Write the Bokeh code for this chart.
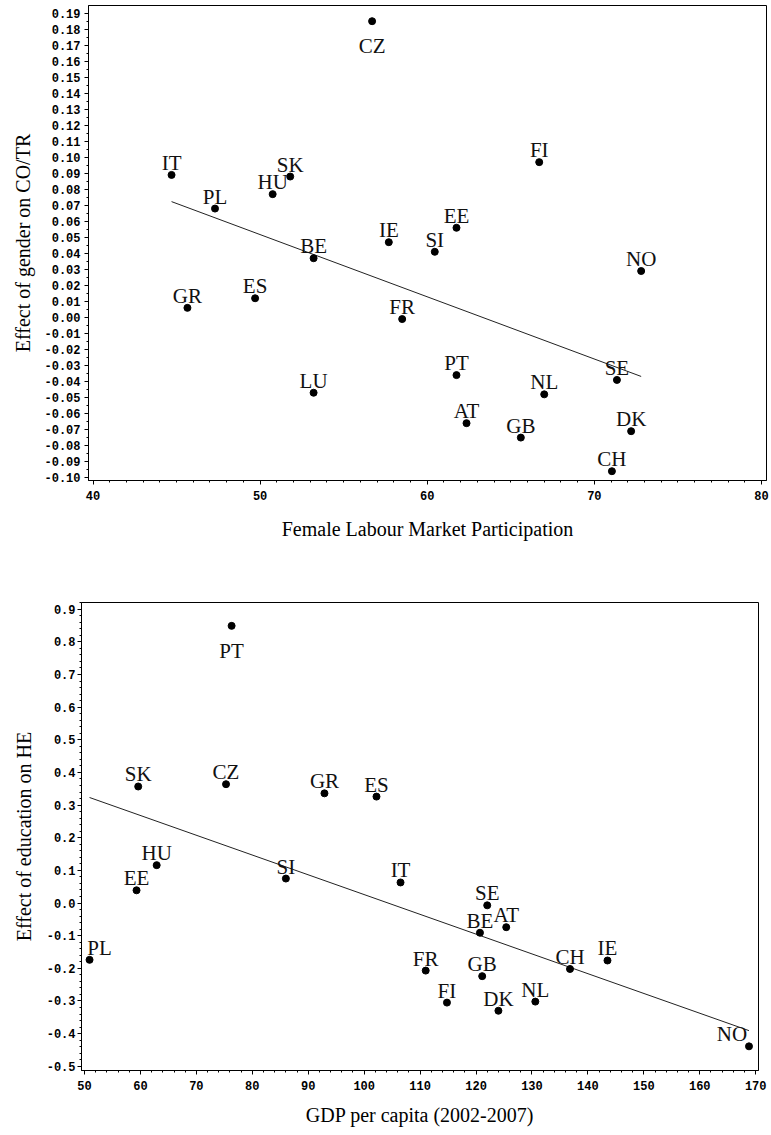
import numpy as np
from bokeh.plotting import figure
from bokeh.layouts import column
from bokeh.models import ColumnDataSource, Range1d, SingleIntervalTicker, NumeralTickFormatter
from bokeh.embed import file_html
from bokeh.resources import INLINE
from bokeh.core.properties import value

# ---------------- data: top chart ----------------
top_countries = ["CZ", "IT", "SK", "HU", "PL", "BE", "IE", "SI", "EE", "FI", "NO",
                 "GR", "ES", "FR", "PT", "LU", "SE", "NL", "AT", "DK", "GB", "CH"]
top_flmp = [56.7, 44.7, 51.8, 50.75, 47.3, 53.2, 57.7, 60.45, 61.75, 66.7, 72.8,
            45.65, 49.7, 58.5, 61.75, 53.2, 71.35, 67.0, 62.35, 72.2, 65.6, 71.05]
top_effect = [0.185, 0.089, 0.088, 0.077, 0.068, 0.037, 0.047, 0.041, 0.056, 0.097, 0.029,
              0.006, 0.012, -0.001, -0.036, -0.047, -0.039, -0.048, -0.066, -0.071, -0.075, -0.096]

# ---------------- data: bottom chart ----------------
bot_countries = ["PT", "SK", "CZ", "GR", "ES", "HU", "EE", "PL", "SI", "IT", "SE",
                 "AT", "BE", "FR", "GB", "FI", "DK", "NL", "CH", "IE", "NO"]
bot_gdp = [76.3, 59.6, 75.3, 92.9, 102.2, 62.9, 59.3, 50.9, 86.0, 106.5, 122.0,
           125.4, 120.7, 111.0, 121.1, 114.8, 124.0, 130.6, 136.8, 143.5, 168.8]
bot_effect = [0.849, 0.357, 0.364, 0.336, 0.326, 0.116, 0.039, -0.174, 0.075, 0.063, -0.007,
              -0.074, -0.091, -0.207, -0.224, -0.305, -0.330, -0.302, -0.202, -0.176, -0.439]

top_xlabel = "Female Labour Market Participation"
top_ylabel = "Effect of gender on CO/TR"
bot_xlabel = "GDP per capita (2002-2007)"
bot_ylabel = "Effect of education on HE"

SERIF = "Liberation Serif"
MONO = "Liberation Mono"


def make_fig(width, height, xr, yr, mbl, mbr, mbt, mbb):
    p = figure(width=width, height=height, x_range=Range1d(*xr), y_range=Range1d(*yr),
               output_backend="svg", toolbar_location=None,
               min_border_left=mbl, min_border_right=mbr,
               min_border_top=mbt, min_border_bottom=mbb)
    p.frame_align = False
    p.xgrid.visible = False
    p.ygrid.visible = False
    p.outline_line_color = "black"
    p.outline_line_width = 1
    p.outline_line_alpha = 1
    p.background_fill_color = "white"
    p.border_fill_color = "white"
    for ax in (p.xaxis[0], p.yaxis[0]):
        ax.axis_line_color = "black"
        ax.major_tick_line_color = "black"
        ax.minor_tick_line_color = "black"
        ax.major_tick_in = 0
        ax.major_tick_out = 4
        ax.minor_tick_in = 0
        ax.minor_tick_out = 2
        ax.major_label_text_font = MONO
        ax.major_label_text_font_style = "bold"
        ax.major_label_text_font_size = "12px"
        ax.major_label_text_color = "black"
        ax.axis_label_text_font = SERIF
        ax.axis_label_text_font_style = "normal"
        ax.axis_label_text_font_size = "20px"
        ax.axis_label_text_color = "black"
    return p


def add_points(p, xs, ys, names, below=(), xshift=None):
    xshift = xshift or {}
    xo = [xshift.get(n, 0) for n in names]
    yo = [25 if n in below else -12 for n in names]
    src = ColumnDataSource(dict(x=xs, y=ys, name=names, xo=xo, yo=yo))
    xa = np.array(xs)
    ya = np.array(ys)
    slope, icpt = np.polyfit(xa, ya, 1)
    lx = np.array([xa.min(), xa.max()])
    p.line(lx, icpt + slope * lx, line_color="#222222", line_width=1)
    p.scatter(x="x", y="y", source=src, size=7, marker="circle",
              fill_color="black", line_color="black")
    p.text(x="x", y="y", text="name", x_offset="xo", y_offset="yo", source=src,
           text_align="center", text_baseline="alphabetic",
           text_font=value(SERIF), text_font_size="21px", text_color="#111111")


# ---------------- top figure ----------------
p1 = make_fig(770, 545, (39.73, 80.3), (-0.1018, 0.1948), 88, 4, 5, 65)
p1.xaxis.ticker = SingleIntervalTicker(interval=10, num_minor_ticks=10)
p1.yaxis.ticker = SingleIntervalTicker(interval=0.01, num_minor_ticks=2)
p1.yaxis.formatter = NumeralTickFormatter(format="0.00")
p1.xaxis.major_label_standoff = 6
p1.yaxis.major_label_standoff = 4
p1.xaxis.axis_label = top_xlabel
p1.yaxis.axis_label = top_ylabel
p1.xaxis.axis_label_standoff = 15
p1.yaxis.axis_label_standoff = 7
add_points(p1, top_flmp, top_effect, top_countries, below={"CZ"})

# ---------------- bottom figure ----------------
p2 = make_fig(770, 590, (49.46, 170.5), (-0.513, 0.9206), 81, 12, 57, 65)
p2.xaxis.ticker = SingleIntervalTicker(interval=10, num_minor_ticks=5)
p2.yaxis.ticker = SingleIntervalTicker(interval=0.1, num_minor_ticks=5)
p2.yaxis.formatter = NumeralTickFormatter(format="0.0")
p2.xaxis.major_label_standoff = 6
p2.yaxis.major_label_standoff = 2
p2.xaxis.axis_label = bot_xlabel
p2.yaxis.axis_label = bot_ylabel
p2.xaxis.axis_label_standoff = 11
p2.yaxis.axis_label_standoff = 9
add_points(p2, bot_gdp, bot_effect, bot_countries, below={"PT"},
           xshift={"PL": 10, "NO": -17})

layout = column(p1, p2, spacing=0)
open("out.html", "w").write(file_html(layout, INLINE))
